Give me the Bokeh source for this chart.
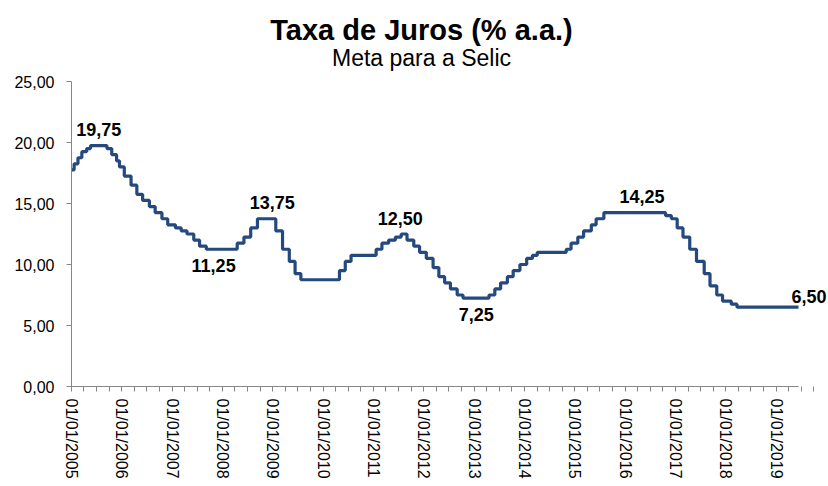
import pandas as pd
from bokeh.plotting import figure
from bokeh.models import (Range1d, FixedTicker, DatetimeTickFormatter, Label,
                          ColumnDataSource)
from bokeh.embed import file_html
from bokeh.resources import INLINE

# ---- data: Selic target (Copom decisions, effective dates) ----
dates = [
    "2005-01-01", "2005-01-20", "2005-02-17", "2005-03-17", "2005-04-21", "2005-05-19",
    "2005-09-15", "2005-10-20", "2005-11-24", "2005-12-15",
    "2006-01-19", "2006-03-09", "2006-04-20", "2006-06-01", "2006-07-20", "2006-08-31",
    "2006-10-19", "2006-11-30",
    "2007-01-25", "2007-03-08", "2007-04-19", "2007-06-07", "2007-07-19", "2007-09-06",
    "2008-04-17", "2008-06-05", "2008-07-24", "2008-09-11",
    "2009-01-22", "2009-03-12", "2009-04-30", "2009-06-11", "2009-07-23",
    "2010-04-29", "2010-06-10", "2010-07-22",
    "2011-01-20", "2011-03-03", "2011-04-21", "2011-06-09", "2011-07-21", "2011-09-01",
    "2011-10-20", "2011-12-01",
    "2012-01-19", "2012-03-08", "2012-04-19", "2012-05-31", "2012-07-12", "2012-08-30",
    "2012-10-11",
    "2013-04-18", "2013-05-30", "2013-07-11", "2013-08-29", "2013-10-10", "2013-11-28",
    "2014-01-16", "2014-02-27", "2014-04-03", "2014-10-30", "2014-12-04",
    "2015-01-22", "2015-03-05", "2015-04-30", "2015-06-04", "2015-07-30",
    "2016-10-20", "2016-12-01",
    "2017-01-12", "2017-02-23", "2017-04-13", "2017-06-01", "2017-07-27", "2017-09-07",
    "2017-10-26", "2017-12-07",
    "2018-02-08", "2018-03-22",
    "2019-06-11",
]
rates = [
    17.75, 18.25, 18.75, 19.25, 19.50, 19.75,
    19.50, 19.00, 18.50, 18.00,
    17.25, 16.50, 15.75, 15.25, 14.75, 14.25,
    13.75, 13.25,
    13.00, 12.75, 12.50, 12.00, 11.50, 11.25,
    11.75, 12.25, 13.00, 13.75,
    12.75, 11.25, 10.25, 9.25, 8.75,
    9.50, 10.25, 10.75,
    11.25, 11.75, 12.00, 12.25, 12.50, 12.00,
    11.50, 11.00,
    10.50, 9.75, 9.00, 8.50, 8.00, 7.50,
    7.25,
    7.50, 8.00, 8.50, 9.00, 9.50, 10.00,
    10.50, 10.75, 11.00, 11.25, 11.75,
    12.25, 12.75, 13.25, 13.75, 14.25,
    14.00, 13.75,
    13.00, 12.25, 11.25, 10.25, 9.25, 8.25,
    7.50, 7.00,
    6.75, 6.50,
    6.50,
]

# highlighted values
label_dates = ["2005-07-18", "2007-10-29", "2008-12-28", "2011-07-14",
               "2013-01-15", "2016-05-01", "2019-06-11"]
label_rates = [19.75, 11.25, 13.75, 12.50, 7.25, 14.25, 6.50]
label_side = ["above", "below", "above", "above", "below", "above", "end"]

year_ticks = list(range(2005, 2020))
y_ticks = [0, 5, 10, 15, 20, 25]
y_tick_labels = ["0,00", "5,00", "10,00", "15,00", "20,00", "25,00"]
y_min, y_max = 0, 25

title_text = "Taxa de Juros (% a.a.)"
subtitle_text = "Meta para a Selic"

# ---- layout (pixels) ----
W, H = 828, 486
LEFT, BOTTOM = 71, 100          # frame starts here; frame spans to top/right edges
AXIS_RIGHT = 798                # where the x axis ends
AXIS_TOP = 81                   # where 25,00 sits
FONT = "Liberation Sans"
LINE = "#26497D"

frame_w = W - LEFT
frame_h = H - BOTTOM

x = pd.to_datetime(dates)
x_start = pd.Timestamp("2005-01-01")
x_end = pd.Timestamp(dates[-1])
span = x_end - x_start
x_range_end = x_start + span * (frame_w / (AXIS_RIGHT - LEFT))
y_range_end = y_max * frame_h / (H - BOTTOM - AXIS_TOP)

p = figure(width=W, height=H, x_axis_type="datetime",
           output_backend="svg", toolbar_location=None,
           min_border_left=LEFT, min_border_right=0,
           min_border_top=0, min_border_bottom=BOTTOM)
p.x_range = Range1d(x_start, x_range_end)
p.y_range = Range1d(y_min, y_range_end)
p.outline_line_color = None
p.xgrid.visible = False
p.ygrid.visible = False
p.background_fill_color = "white"
p.border_fill_color = "white"

src = ColumnDataSource(dict(x=x, y=rates))
p.step("x", "y", source=src, mode="after", line_color=LINE, line_width=3.2)

# x axis
major = [pd.Timestamp(f"{y}-01-01").value / 1e6 for y in year_ticks]
minor = []
for y in year_ticks:
    for m in (4, 7, 10):
        minor.append(pd.Timestamp(f"{y}-{m:02d}-01").value / 1e6)
xa = p.xaxis[0]
xa.bounds = (x_start, x_end)
xa.ticker = FixedTicker(ticks=major, minor_ticks=minor)
fmt = "%d/%m/%Y"
xa.formatter = DatetimeTickFormatter(
    milliseconds=fmt, seconds=fmt, minsec=fmt, minutes=fmt, hourmin=fmt,
    hours=fmt, days=fmt, months=fmt, years=fmt, strip_leading_zeros=False)
xa.major_label_orientation = "vertical"
xa.major_label_text_font = FONT
xa.major_label_text_font_size = "16px"
xa.major_label_text_color = "black"
xa.major_label_standoff = 7
xa.axis_line_color = "#868686"
xa.major_tick_line_color = "#868686"
xa.minor_tick_line_color = "#868686"
xa.major_tick_in = 0
xa.major_tick_out = 5
xa.minor_tick_in = 0
xa.minor_tick_out = 5

# y axis
ya = p.yaxis[0]
ya.bounds = (y_min, y_max)
ya.ticker = FixedTicker(ticks=y_ticks, minor_ticks=[])
ya.major_label_overrides = {t: s for t, s in zip(y_ticks, y_tick_labels)}
ya.major_label_text_font = FONT
ya.major_label_text_font_size = "16px"
ya.major_label_text_color = "black"
ya.major_label_standoff = 12
ya.axis_line_color = "#868686"
ya.major_tick_line_color = "#868686"
ya.major_tick_in = 0
ya.major_tick_out = 5
ya.minor_tick_line_color = None

# value labels
for d, r, side in zip(label_dates, label_rates, label_side):
    txt = f"{r:.2f}".replace(".", ",")
    if side == "above":
        kw = dict(text_align="center", text_baseline="middle", y_offset=16)
    elif side == "below":
        kw = dict(text_align="center", text_baseline="middle", y_offset=-16)
    else:
        kw = dict(text_align="left", text_baseline="middle", x_offset=-7, y_offset=11)
    p.add_layout(Label(x=pd.Timestamp(d).value / 1e6, y=r, text=txt,
                       text_font=FONT, text_font_size="18px",
                       text_font_style="bold", text_color="black", **kw))

# titles (screen units, measured from the frame's bottom-left)
cx = 421 - LEFT
p.add_layout(Label(x=cx, y=frame_h - 29, x_units="screen", y_units="screen",
                   text=title_text, text_font=FONT, text_font_size="29px",
                   text_font_style="bold", text_align="center",
                   text_baseline="alphabetic", text_color="black"))
p.add_layout(Label(x=cx, y=frame_h - 57, x_units="screen", y_units="screen",
                   text=subtitle_text, text_font=FONT, text_font_size="23px",
                   text_align="center", text_baseline="alphabetic",
                   text_color="black"))

open("out.html", "w").write(file_html(p, INLINE))
